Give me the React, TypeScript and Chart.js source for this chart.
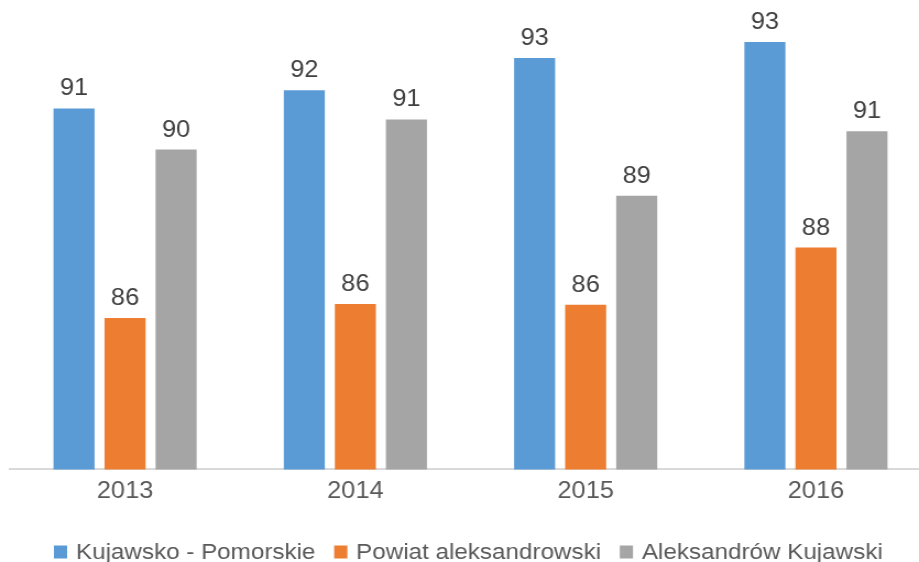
import React, { useEffect, useRef } from "react";
import { Chart, registerables } from "chart.js";

Chart.register(...registerables);

const categories = ["2013", "2014", "2015", "2016"];
const seriesNames = ["Kujawsko - Pomorskie", "Powiat aleksandrowski", "Aleksandrów Kujawski"];
const kujawsko = [91.47, 91.95, 92.79, 93.21];
const powiat = [85.97, 86.34, 86.32, 87.82];
const aleksandrow = [90.39, 91.18, 89.18, 90.87];
const colors = ["#5B9BD5", "#ED7D31", "#A5A5A5"];
const yMin = 82;
const yMax = 94;

const FONT = "'Liberation Sans', Arial, sans-serif";
const STRETCH = 1.1;
const CANVAS_W = 855;
const CANVAS_H = 562;

const labelPlugin = {
  id: "barLabels",
  afterDatasetsDraw(chart: any) {
    const ctx = chart.ctx;
    ctx.save();
    ctx.font = `23px ${FONT}`;
    ctx.fillStyle = "#404040";
    ctx.textAlign = "center";
    ctx.textBaseline = "alphabetic";
    chart.data.datasets.forEach((ds: any, i: number) => {
      const meta = chart.getDatasetMeta(i);
      meta.data.forEach((bar: any, j: number) => {
        const v = Math.round(ds.data[j]);
        ctx.fillText(String(v), bar.x, bar.y - 13);
      });
    });
    ctx.restore();
  },
};

const legendPlugin = {
  id: "customLegend",
  afterDraw(chart: any) {
    const ctx = chart.ctx;
    ctx.save();
    ctx.font = `22px ${FONT}`;
    ctx.textBaseline = "middle";
    ctx.textAlign = "left";
    const boxW = 12;
    const boxH = 13;
    const gapText = 8;
    const gapItem = 17;
    const items = chart.data.datasets.map((ds: any) => ({
      label: ds.label,
      color: ds.backgroundColor,
      w: ctx.measureText(ds.label).width,
    }));
    const total =
      items.reduce((s: number, it: any) => s + boxW + gapText + it.w, 0) + gapItem * (items.length - 1);
    let x = chart.width / 2 - total / 2 - 2;
    const y = 552;
    items.forEach((it: any) => {
      ctx.fillStyle = it.color;
      ctx.fillRect(x, y - boxH / 2, boxW, boxH);
      x += boxW + gapText;
      ctx.fillStyle = "#595959";
      ctx.fillText(it.label, x, y + 1);
      x += it.w + gapItem;
    });
    ctx.restore();
  },
};

export default function App() {
  const ref = useRef<HTMLCanvasElement>(null);
  useEffect(() => {
    if (!ref.current) return;
    const chart = new Chart(ref.current, {
      type: "bar",
      data: {
        labels: categories,
        datasets: [kujawsko, powiat, aleksandrow].map((d, i) => ({
          label: seriesNames[i],
          data: d,
          backgroundColor: colors[i],
          categoryPercentage: 0.665,
          barPercentage: 0.804,
        })),
      },
      options: {
        animation: false,
        responsive: false,
        maintainAspectRatio: false,
        layout: { padding: { left: 9, right: 9, top: 12, bottom: 49 } },
        scales: {
          x: {
            grid: { display: false, drawTicks: false },
            border: { color: "#D9D9D9", width: 2 },
            ticks: {
              color: "#595959",
              font: { size: 23, family: FONT },
              padding: 8,
            },
          },
          y: {
            display: false,
            min: yMin,
            max: yMax,
          },
        },
        plugins: {
          tooltip: { enabled: false },
          legend: { display: false },
        },
      },
      plugins: [labelPlugin, legendPlugin],
    });
    return () => chart.destroy();
  }, []);
  return (
    <div style={{ position: "fixed", left: 0, top: 0, width: 919, height: 562, overflow: "hidden", background: "#fff" }}>
      <canvas
        ref={ref}
        width={CANVAS_W}
        height={CANVAS_H}
        style={{ display: "block", width: CANVAS_W * STRETCH, height: CANVAS_H }}
      />
    </div>
  );
}
